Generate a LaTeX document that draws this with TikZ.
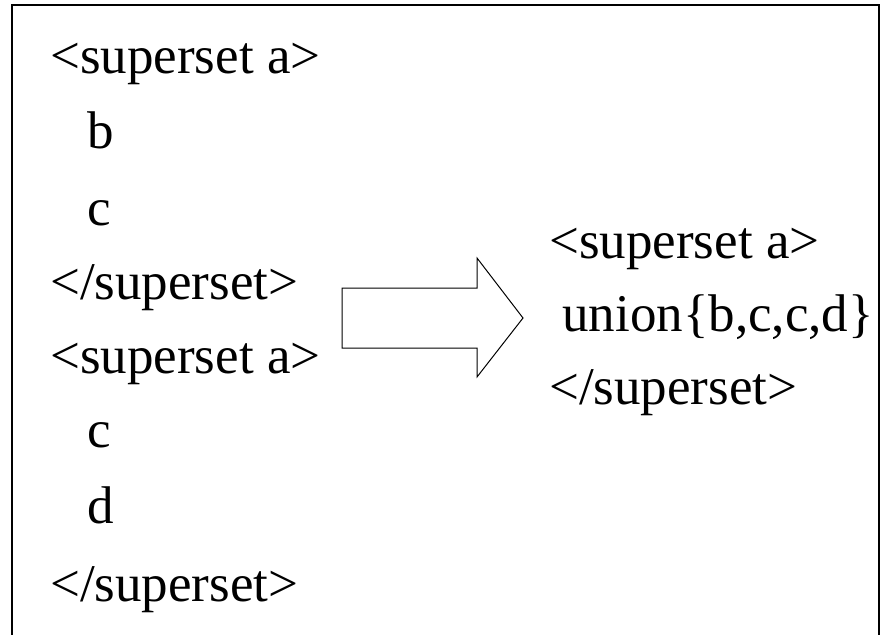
\documentclass[tikz,border=0pt]{standalone}
\usepackage{fontspec}
\setmainfont{Liberation Serif}
\tikzset{
  line/.style={anchor=base west, inner sep=0pt, font=\fontsize{53}{60}\selectfont},
  frame/.style={line width=1.6pt},
  bigarrow/.style={line width=1pt, line join=miter}
}
\begin{document}
\begin{tikzpicture}[x=1pt,y=-1pt]
\useasboundingbox (0,0) rectangle (885,634);
% open frame: bottom edge lies below the page
\draw[frame] (12,660) -- (12,5) -- (879,5) -- (879,660);
% left column
\node[line] (l1) at (50,74) {<superset a>};
\node[line] (l2) at (87,148) {b};
\node[line] (l3) at (87,225) {c};
\node[line] (l4) at (50,299) {</superset>};
\node[line] (l5) at (50,373) {<superset a>};
\node[line] (l6) at (87,447) {c};
\node[line] (l7) at (87,523) {d};
\node[line] (l8) at (50,601) {</superset>};
% block arrow
\draw[bigarrow] (342,288) -- (477,288) -- (477,258) -- (523,318) -- (477,377) -- (477,348) -- (342,348) -- cycle;
% right column
\node[line] (r1) at (549,258) {<superset a>};
\node[line] (r2) at (549,331) {~union\{b,c,c,d\}};
\node[line] (r3) at (549,404) {</superset>};
\end{tikzpicture}
\end{document}
